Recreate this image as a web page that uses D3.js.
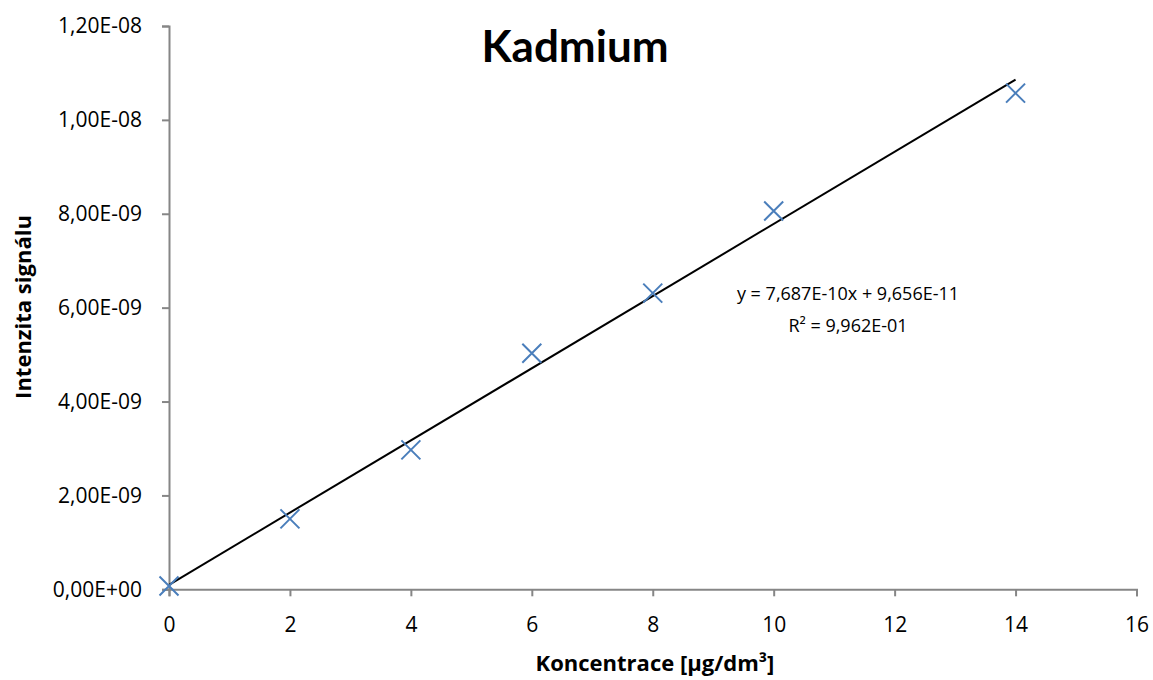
<!DOCTYPE html>
<html>
<head>
<meta charset="utf-8">
<script src="https://cdn.jsdelivr.net/npm/d3@7/dist/d3.min.js"></script>
<style>
  html, body { margin: 0; padding: 0; background: #fff; }
  svg { display: block; font-family: "Open Sans", Lato, sans-serif; }
</style>
</head>
<body>
<svg id="chart" width="1153" height="680"></svg>
<script>
// Calibration data: cadmium concentration vs. signal intensity
const concentrations = [0, 2, 4, 6, 8, 10, 14];
const intensities = [0.07e-9, 1.50e-9, 2.97e-9, 5.03e-9, 6.31e-9, 8.06e-9, 10.57e-9];

// Linear trendline coefficients and fit quality
const slope = 7.687e-10;
const intercept = 9.656e-11;
const rSquared = 0.9962;

const xTicks = [0, 2, 4, 6, 8, 10, 12, 14, 16];
const yTicks = [0, 2e-9, 4e-9, 6e-9, 8e-9, 1e-8, 1.2e-8];
const yTickLabels = ["0,00E+00", "2,00E-09", "4,00E-09", "6,00E-09", "8,00E-09", "1,00E-08", "1,20E-08"];

const svg = d3.select("#chart");
const plotLeft = 169, plotRight = 1136.5, plotTop = 26, plotBottom = 589.3;

const x = d3.scaleLinear().domain([0, 16]).range([plotLeft, plotRight]);
const y = d3.scaleLinear().domain([0, 1.2e-8]).range([plotBottom, plotTop]);

const axisColor = "#868686";
const fontFamily = "'Open Sans', Lato, sans-serif";

// Y axis
const yAxis = d3.axisLeft(y)
  .tickValues(yTicks)
  .tickSize(7)
  .tickPadding(20)
  .tickFormat((d, i) => yTickLabels[i]);
const gy = svg.append("g").attr("transform", `translate(${plotLeft},0)`).call(yAxis);
gy.select(".domain").attr("stroke", axisColor).attr("stroke-width", 2);
gy.selectAll(".tick line").attr("stroke", axisColor).attr("stroke-width", 2);
gy.selectAll(".tick text").attr("font-size", 21).attr("fill", "#000")
  .attr("font-family", fontFamily);

// X axis
const xAxis = d3.axisBottom(x)
  .tickValues(xTicks)
  .tickSize(7)
  .tickPadding(21)
  .tickFormat(d3.format("d"));
const gx = svg.append("g").attr("transform", `translate(0,${plotBottom})`).call(xAxis);
gx.select(".domain").attr("stroke", axisColor).attr("stroke-width", 2);
gx.selectAll(".tick line").attr("stroke", axisColor).attr("stroke-width", 2);
gx.selectAll(".tick text").attr("font-size", 21).attr("fill", "#000")
  .attr("font-family", fontFamily);

// Trendline over the data range
const xMax = d3.max(concentrations);
svg.append("line")
  .attr("x1", x(0)).attr("y1", y(intercept))
  .attr("x2", x(xMax)).attr("y2", y(slope * xMax + intercept))
  .attr("stroke", "#000").attr("stroke-width", 2);

// Data markers drawn as crosses
const half = 9.5;
svg.append("g")
  .selectAll("path")
  .data(concentrations.map((c, i) => [c, intensities[i]]))
  .join("path")
  .attr("d", d => {
    const cx = x(d[0]), cy = y(d[1]);
    return `M${cx - half},${cy - half}L${cx + half},${cy + half}M${cx - half},${cy + half}L${cx + half},${cy - half}`;
  })
  .attr("stroke", "#4a7ebb")
  .attr("stroke-width", 2)
  .attr("fill", "none");

// Title
svg.append("text")
  .attr("x", 575).attr("y", 62)
  .attr("text-anchor", "middle")
  .attr("font-family", "Lato, sans-serif")
  .attr("font-size", 44).attr("font-weight", "bold")
  .text("Kadmium");

// Axis titles
svg.append("text")
  .attr("x", 655).attr("y", 671)
  .attr("text-anchor", "middle")
  .attr("font-size", 22).attr("font-weight", "bold")
  .text("Koncentrace [µg/dm³]");

svg.append("text")
  .attr("transform", "translate(31,307) rotate(-90)")
  .attr("text-anchor", "middle")
  .attr("font-size", 22).attr("font-weight", "bold")
  .text("Intenzita signálu");

// Trendline equation and R²
const fmtSci = (v, digits) => {
  const [m, e] = v.toExponential(digits).split("e");
  const exp = parseInt(e, 10);
  const sign = exp < 0 ? "-" : "+";
  return m.replace(".", ",") + "E" + sign + String(Math.abs(exp)).padStart(2, "0");
};
svg.append("text")
  .attr("x", 848).attr("y", 300)
  .attr("text-anchor", "middle")
  .attr("font-size", 18)
  .text(`y = ${fmtSci(slope, 3)}x + ${fmtSci(intercept, 3)}`);
svg.append("text")
  .attr("x", 848).attr("y", 332)
  .attr("text-anchor", "middle")
  .attr("font-size", 18)
  .text(`R² = ${fmtSci(rSquared, 3)}`);
</script>
</body>
</html>
